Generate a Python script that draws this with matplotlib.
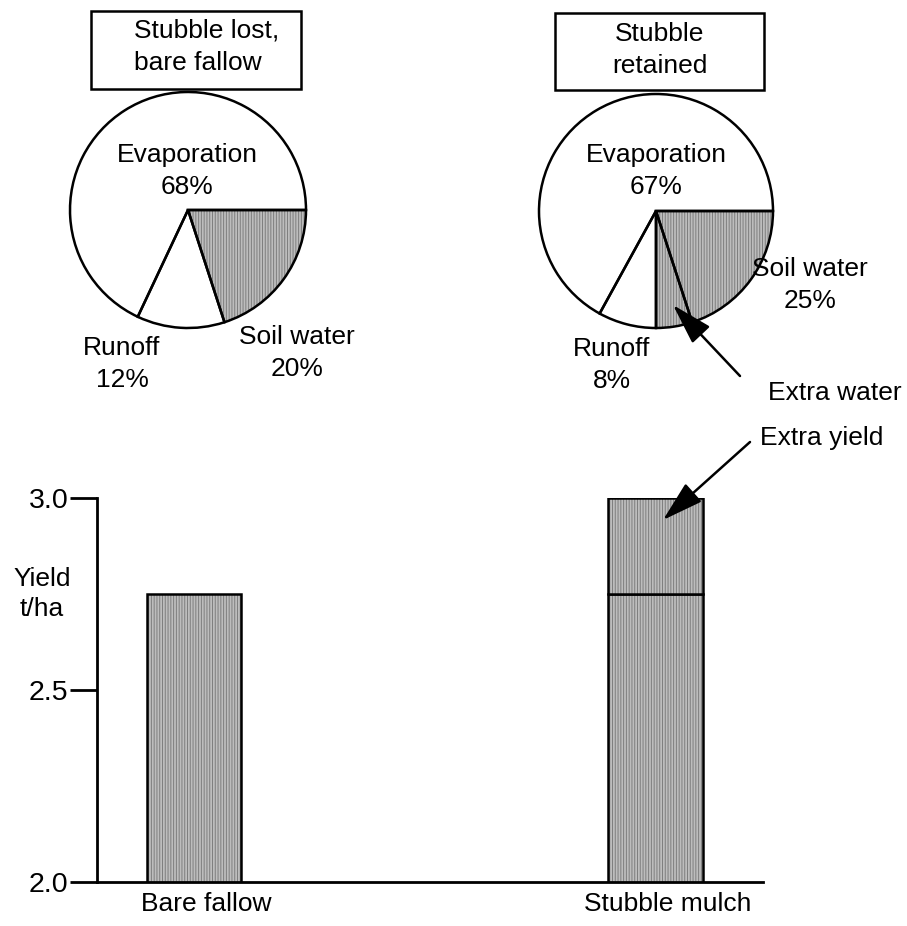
import numpy as np
import matplotlib
matplotlib.use("Agg")
import matplotlib.pyplot as plt
from matplotlib.patches import Rectangle
from matplotlib.transforms import ScaledTranslation

plt.rcParams['font.family'] = ['Liberation Sans', 'DejaVu Sans']
plt.rcParams['font.size'] = 19
plt.rcParams['hatch.linewidth'] = 0.7

# pie data (percent of rainfall)
pie1_labels = ['Soil water', 'Runoff', 'Evaporation']
pie1_values = [20, 12, 68]
pie2_labels = ['Soil water', 'Extra water', 'Runoff', 'Evaporation']
pie2_values = [20, 5, 8, 67]

# yield data
treatments = ['Bare fallow', 'Stubble mulch']
base_yield = [2.75, 2.75]
extra_yield = [0.0, 0.25]
yticks = [2.0, 2.5, 3.0]

W, H = 907, 926
GRAY = '#bdbdbd'
HATCH_COL = '#7e7e7e'
HATCH = '||||||'
LS = 1.45
LW = 1.8

fig = plt.figure(figsize=(W / 100, H / 100), dpi=100)


def px_axes(x0, y0, x1, y1):
    return fig.add_axes([x0 / W, 1 - y1 / H, (x1 - x0) / W, (y1 - y0) / H])


def draw_pie(cx, cy, r, values, shaded):
    ax = px_axes(cx - 130, cy - 130, cx + 130, cy + 130)
    cols = [GRAY if s else 'white' for s in shaded]
    wedges, _ = ax.pie(values, startangle=0, counterclock=False, radius=r / 130,
                       colors=cols, wedgeprops=dict(linewidth=0, edgecolor=HATCH_COL))
    for w, s in zip(wedges, shaded):
        if s:
            w.set_hatch(HATCH)
    ax.pie(values, startangle=0, counterclock=False, radius=r / 130,
           wedgeprops=dict(fill=False, edgecolor='black', linewidth=LW))
    ax.set_xlim(-1, 1)
    ax.set_ylim(-1, 1)
    ax.set_aspect('auto')
    ax.set_axis_off()
    return ax


draw_pie(188, 210, 118, pie1_values, [True, False, False])
draw_pie(656, 211, 117, pie2_values, [True, True, False, False])

# bar chart
ax = px_axes(97, 498, 763, 882)
pos = np.arange(len(treatments))
bw = 0.204
ax.bar(pos, base_yield, bw, color=GRAY, hatch=HATCH, edgecolor=HATCH_COL, linewidth=0)
ax.bar(pos, base_yield, bw, fill=False, edgecolor='black', linewidth=LW)
ax.bar(pos, extra_yield, bw, bottom=base_yield, color=GRAY, hatch=HATCH,
       edgecolor=HATCH_COL, linewidth=0)
ax.bar(pos[1:], extra_yield[1:], bw, bottom=base_yield[1:], fill=False,
       edgecolor='black', linewidth=LW)
ax.set_ylim(2.0, 3.0)
ax.set_xlim(-0.21, 1.233)
ax.set_yticks(yticks)
ax.set_yticklabels(['%.1f' % v for v in yticks], fontsize=20.5)
ax.set_xticks(pos)
ax.set_xticklabels(treatments)
ax.tick_params(axis='y', length=19.5, width=2, pad=1)
ax.tick_params(axis='x', length=0, pad=7)
for lab in ax.get_xticklabels():
    lab.set_transform(lab.get_transform() + ScaledTranslation(0.12, 0, fig.dpi_scale_trans))
for s in ['top', 'right']:
    ax.spines[s].set_visible(False)
for s in ['left', 'bottom']:
    ax.spines[s].set_linewidth(2)
    ax.spines[s].set_capstyle('projecting')
ax.patch.set_visible(False)

# overlay for labels, boxes and arrows (pixel coordinates)
ov = fig.add_axes([0, 0, 1, 1], zorder=10)
ov.set_xlim(0, W)
ov.set_ylim(H, 0)
ov.set_axis_off()
ov.patch.set_visible(False)

ov.add_patch(Rectangle((91, 11), 210, 78, fill=False, edgecolor='black', linewidth=LW))
ov.add_patch(Rectangle((555, 13), 209, 77, fill=False, edgecolor='black', linewidth=LW))
ov.text(134, 47, 'Stubble lost,\nbare fallow', ha='left', va='center', linespacing=LS)
ov.text(660, 50, 'Stubble\nretained', ha='center', va='center', linespacing=LS)

ov.text(187, 171, 'Evaporation\n68%', ha='center', va='center', linespacing=LS)
ov.text(122, 364, 'Runoff\n12%', ha='center', va='center', linespacing=LS)
ov.text(297, 353, 'Soil water\n20%', ha='center', va='center', linespacing=LS)

ov.text(656, 171, 'Evaporation\n67%', ha='center', va='center', linespacing=LS)
ov.text(810, 285, 'Soil water\n25%', ha='center', va='center', linespacing=LS)
ov.text(612, 365, 'Runoff\n8%', ha='center', va='center', linespacing=LS)

ov.text(42, 594, 'Yield\nt/ha', ha='center', va='center', linespacing=1.3)

arrow = dict(arrowstyle='-|>,head_length=1.7,head_width=0.5', mutation_scale=15,
             color='black', lw=LW, shrinkA=0, shrinkB=0)
ov.annotate('', xy=(673, 305), xytext=(740, 376), arrowprops=arrow)
ov.text(835, 393, 'Extra water', ha='center', va='center')
ov.annotate('', xy=(663, 520), xytext=(750, 442), arrowprops=arrow)
ov.text(822, 438, 'Extra yield', ha='center', va='center')

fig.savefig('out.png', dpi=100)
